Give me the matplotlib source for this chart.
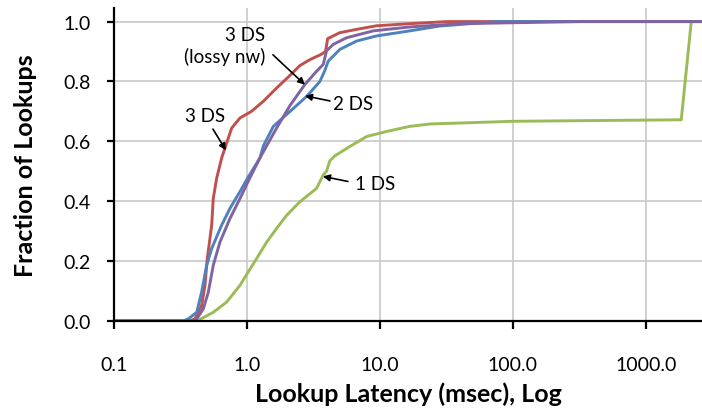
import numpy as np
import matplotlib
matplotlib.use('Agg')
import matplotlib.pyplot as plt

plt.rcParams['font.family'] = ['Lato', 'DejaVu Sans']

# latency (msec) and cumulative fraction of lookups
red_x = [0.1, 0.37, 0.406, 0.456, 0.483, 0.503, 0.543, 0.558, 0.592, 0.645, 0.683, 0.767, 0.886, 1.08, 1.33,
         1.67, 2.05, 2.50, 2.98, 3.6, 3.9, 4.05, 5.0, 6.68, 9.44, 16.8, 32, 2650]
red_y = [0, 0, 0.007, 0.051, 0.118, 0.208, 0.32, 0.409, 0.477, 0.544, 0.577, 0.644, 0.678, 0.70, 0.734,
         0.778, 0.815, 0.853, 0.873, 0.89, 0.90, 0.943, 0.963, 0.974, 0.986, 0.993, 1.0, 1.0]

blue_x = [0.1, 0.33, 0.362, 0.419, 0.456, 0.498, 0.543, 0.645, 0.745, 0.886, 1.02, 1.25, 1.33, 1.58, 1.99,
          2.11, 2.81, 3.54, 3.84, 4.09, 5.0, 6.68, 9.44, 16.8, 28, 76, 2650]
blue_y = [0, 0, 0.007, 0.029, 0.096, 0.186, 0.242, 0.32, 0.376, 0.432, 0.48, 0.544, 0.585, 0.65, 0.69,
          0.70, 0.75, 0.80, 0.835, 0.868, 0.907, 0.935, 0.952, 0.969, 0.985, 1.0, 1.0]

purple_x = [0.1, 0.39, 0.419, 0.469, 0.512, 0.558, 0.627, 0.745, 0.886, 1.05, 1.25, 1.67, 2.11, 2.73, 3.34,
            3.75, 3.97, 4.46, 5.62, 8.91, 16.8, 40, 319, 2650]
purple_y = [0, 0, 0.007, 0.04, 0.096, 0.186, 0.264, 0.342, 0.409, 0.477, 0.544, 0.644, 0.72, 0.79, 0.834,
            0.857, 0.902, 0.924, 0.946, 0.969, 0.982, 0.993, 1.0, 1.0]

green_x = [0.1, 0.42, 0.558, 0.703, 0.886, 1.02, 1.18, 1.41, 1.67, 1.99, 2.50, 3.34, 3.75, 3.97, 4.2, 4.6,
           5.95, 7.94, 11.2, 16.8, 23.8, 100, 1850, 2200, 2650]
green_y = [0, 0, 0.029, 0.063, 0.119, 0.163, 0.208, 0.264, 0.309, 0.353, 0.398, 0.443, 0.488, 0.50, 0.535, 0.552,
           0.583, 0.616, 0.633, 0.65, 0.658, 0.667, 0.672, 1.0, 1.0]

xticks = [0.1, 1, 10, 100, 1000]
xtick_labels = ['0.1', '1.0', '10.0', '100.0', '1000.0']
yticks = [0, 0.2, 0.4, 0.6, 0.8, 1.0]

fig = plt.figure(figsize=(7.02, 4.14), dpi=100)
ax = fig.add_axes([0.1624, 0.2222, 0.8376, 0.7558])

lw = 2.1
ax.plot(green_x, green_y, color='#9BBB59', lw=lw)
ax.plot(red_x, red_y, color='#C0504D', lw=lw)
ax.plot(blue_x, blue_y, color='#4F81BD', lw=lw)
ax.plot(purple_x, purple_y, color='#8064A2', lw=lw)

ax.set_xscale('log')
ax.set_xlim(0.1, 2650)
ax.set_ylim(0, 1.045)
ax.set_xticks(xticks)
ax.set_xticklabels(xtick_labels)
ax.xaxis.set_minor_locator(matplotlib.ticker.NullLocator())
ax.set_yticks(yticks)
ax.set_yticklabels(['%.1f' % v for v in yticks])

ax.grid(True, color='#C8C8C8', lw=1.2)
ax.set_axisbelow(True)
for s in ['top', 'right']:
    ax.spines[s].set_visible(False)
for s in ['left', 'bottom']:
    ax.spines[s].set_linewidth(1.6)
ax.tick_params(axis='x', direction='out', length=6, width=1.6, pad=19, labelsize=14)
ax.tick_params(axis='y', direction='out', length=5, width=1.6, pad=12, labelsize=14)

ax.set_xlabel('Lookup Latency (msec), Log', fontsize=18, fontweight='bold', labelpad=6)
ax.set_ylabel('Fraction of Lookups', fontsize=18, fontweight='bold', labelpad=19)

arrow = dict(arrowstyle='-|>', color='black', lw=1.2, mutation_scale=10, shrinkA=0, shrinkB=0)
ax.text(0.483, 0.688, '3 DS', ha='center', va='center', fontsize=13.5)
ax.annotate('', xy=(0.695, 0.57), xytext=(0.555, 0.641), arrowprops=arrow)

ax.text(1.37, 0.92, '3 DS\n(lossy nw)', ha='right', va='center', fontsize=13.5,
        multialignment='right', linespacing=1.25)
ax.annotate('', xy=(2.73, 0.789), xytext=(1.57, 0.889), arrowprops=arrow)

ax.text(4.43, 0.728, '2 DS', ha='left', va='center', fontsize=13.5)
ax.annotate('', xy=(2.73, 0.752), xytext=(4.21, 0.735), arrowprops=arrow)

ax.text(6.49, 0.46, '1 DS', ha='left', va='center', fontsize=13.5)
ax.annotate('', xy=(3.73, 0.483), xytext=(5.75, 0.466), arrowprops=arrow)

fig.savefig('out.png', dpi=100)
